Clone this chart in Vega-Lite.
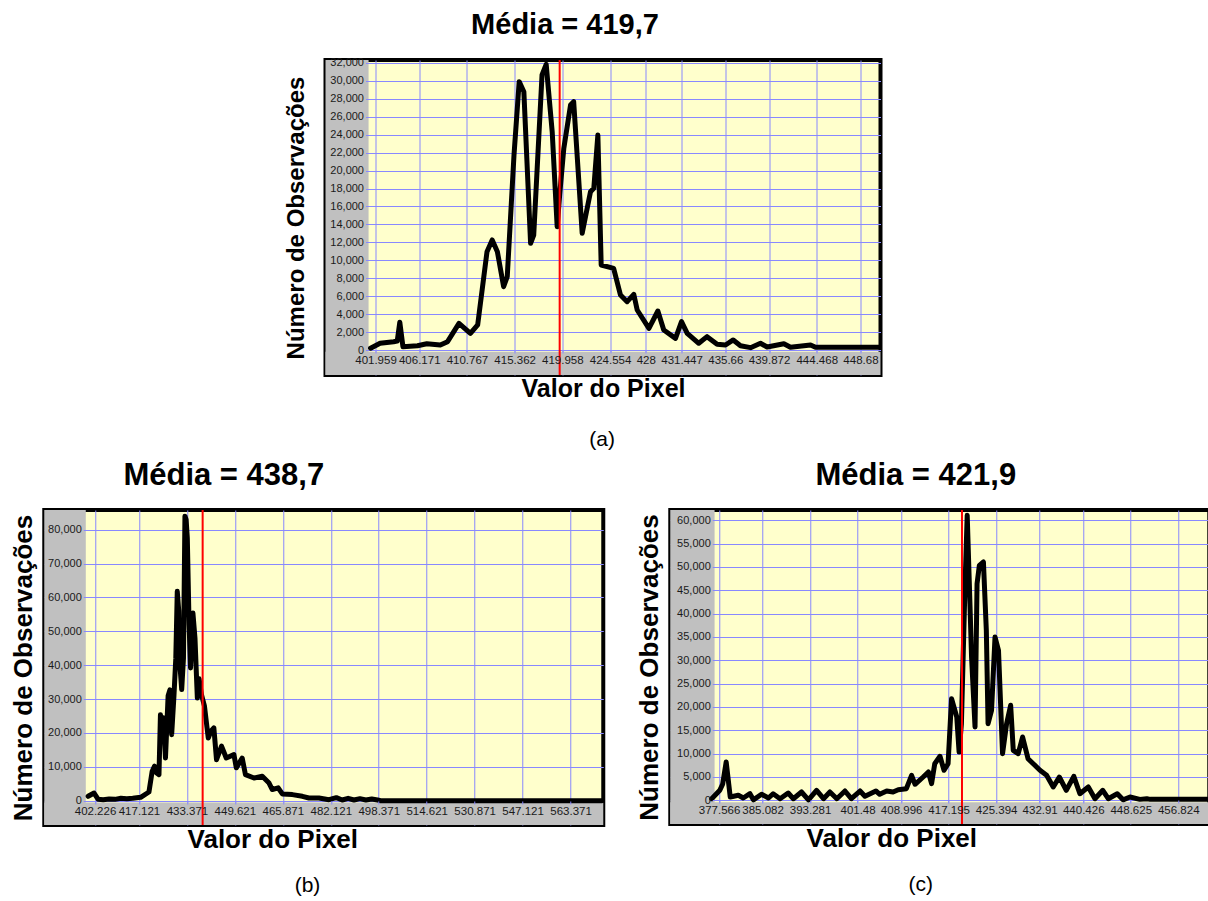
{
  "$schema": "https://vega.github.io/schema/vega-lite/v6.json",
  "padding": {"left": 8, "top": 8, "right": 0, "bottom": 4},
  "background": "#FFFFFF",
  "datasets": {
    "a": [
      {"valor": 401.48, "n": 200}, {"valor": 402.4, "n": 750}, {"valor": 403.7, "n": 930}, {"valor": 404.05, "n": 1000},
      {"valor": 404.3, "n": 3100}, {"valor": 404.6, "n": 370}, {"valor": 406.0, "n": 480}, {"valor": 406.9, "n": 700},
      {"valor": 408.2, "n": 560}, {"valor": 408.9, "n": 930}, {"valor": 410.0, "n": 2970}, {"valor": 411.1, "n": 1850},
      {"valor": 411.8, "n": 2790}, {"valor": 412.7, "n": 10960}, {"valor": 413.2, "n": 12270}, {"valor": 413.7, "n": 10960},
      {"valor": 414.3, "n": 7060}, {"valor": 414.65, "n": 8170}, {"valor": 415.3, "n": 21740}, {"valor": 415.8, "n": 29920},
      {"valor": 416.25, "n": 28800}, {"valor": 416.9, "n": 11900}, {"valor": 417.2, "n": 12820}, {"valor": 418.0, "n": 30660},
      {"valor": 418.4, "n": 31850}, {"valor": 418.98, "n": 24340}, {"valor": 419.46, "n": 13750}, {"valor": 419.7, "n": 17280},
      {"valor": 420.1, "n": 22490}, {"valor": 420.75, "n": 27320}, {"valor": 421.05, "n": 27690}, {"valor": 421.87, "n": 13010},
      {"valor": 422.67, "n": 17650}, {"valor": 422.99, "n": 18030}, {"valor": 423.38, "n": 23970}, {"valor": 423.7, "n": 9480},
      {"valor": 424.9, "n": 9110}, {"valor": 425.56, "n": 6130}, {"valor": 426.2, "n": 5390}, {"valor": 426.84, "n": 6210},
      {"valor": 427.17, "n": 4460}, {"valor": 428.3, "n": 2420}, {"valor": 429.16, "n": 4350}, {"valor": 429.73, "n": 2230},
      {"valor": 430.86, "n": 1300}, {"valor": 431.44, "n": 3160}, {"valor": 431.99, "n": 1860}, {"valor": 433.1, "n": 750},
      {"valor": 433.9, "n": 1490}, {"valor": 434.87, "n": 640}, {"valor": 435.68, "n": 560}, {"valor": 436.42, "n": 1120},
      {"valor": 437.12, "n": 480}, {"valor": 438.09, "n": 260}, {"valor": 439.05, "n": 750}, {"valor": 439.69, "n": 330},
      {"valor": 441.3, "n": 700}, {"valor": 441.94, "n": 300}, {"valor": 443.87, "n": 560}, {"valor": 444.35, "n": 300},
      {"valor": 450.5, "n": 300}
    ],
    "b": [
      {"valor": 399.9, "n": 1300}, {"valor": 401.9, "n": 2270}, {"valor": 403.3, "n": 400}, {"valor": 405.0, "n": 300},
      {"valor": 407.0, "n": 500}, {"valor": 409.0, "n": 400}, {"valor": 411.0, "n": 700}, {"valor": 413.0, "n": 600},
      {"valor": 415.0, "n": 700}, {"valor": 417.7, "n": 1000}, {"valor": 420.5, "n": 2570}, {"valor": 421.6, "n": 8700},
      {"valor": 422.4, "n": 10200}, {"valor": 423.1, "n": 8200}, {"valor": 423.9, "n": 7700}, {"valor": 424.4, "n": 25400},
      {"valor": 424.9, "n": 20000}, {"valor": 425.4, "n": 24500}, {"valor": 426.1, "n": 12600}, {"valor": 427.0, "n": 31000},
      {"valor": 427.6, "n": 32700}, {"valor": 428.2, "n": 19500}, {"valor": 429.0, "n": 31300}, {"valor": 429.6, "n": 42000},
      {"valor": 430.1, "n": 61800}, {"valor": 430.6, "n": 56000}, {"valor": 430.9, "n": 41200}, {"valor": 431.6, "n": 32800},
      {"valor": 432.2, "n": 42100}, {"valor": 432.7, "n": 84000}, {"valor": 433.1, "n": 83000}, {"valor": 433.5, "n": 77600},
      {"valor": 434.1, "n": 52000}, {"valor": 434.6, "n": 39200}, {"valor": 435.4, "n": 55400}, {"valor": 436.1, "n": 48000},
      {"valor": 436.9, "n": 30300}, {"valor": 437.5, "n": 36000}, {"valor": 438.3, "n": 31300}, {"valor": 439.3, "n": 28000},
      {"valor": 440.6, "n": 18500}, {"valor": 441.5, "n": 20500}, {"valor": 442.5, "n": 21500}, {"valor": 443.4, "n": 12100},
      {"valor": 445.1, "n": 16100}, {"valor": 446.7, "n": 12600}, {"valor": 449.3, "n": 13600}, {"valor": 450.1, "n": 9700},
      {"valor": 452.1, "n": 12600}, {"valor": 453.2, "n": 7700}, {"valor": 456.1, "n": 6700}, {"valor": 458.9, "n": 7200},
      {"valor": 461.2, "n": 5200}, {"valor": 462.3, "n": 3300}, {"valor": 464.3, "n": 3800}, {"valor": 465.7, "n": 2000},
      {"valor": 469.1, "n": 1800}, {"valor": 472.5, "n": 1300}, {"valor": 474.7, "n": 800}, {"valor": 478.1, "n": 800},
      {"valor": 481.5, "n": 300}, {"valor": 484.0, "n": 900}, {"valor": 486.0, "n": 200}, {"valor": 488.0, "n": 700},
      {"valor": 490.0, "n": 200}, {"valor": 492.0, "n": 600}, {"valor": 494.0, "n": 200}, {"valor": 496.0, "n": 500},
      {"valor": 498.0, "n": 200}, {"valor": 499.0, "n": 0}, {"valor": 574.0, "n": 0}
    ],
    "c": [
      {"valor": 376.3, "n": 340}, {"valor": 377.7, "n": 2140}, {"valor": 378.2, "n": 3500}, {"valor": 378.8, "n": 8210},
      {"valor": 379.5, "n": 700}, {"valor": 380.9, "n": 1070}, {"valor": 381.75, "n": 490}, {"valor": 382.9, "n": 1410},
      {"valor": 383.5, "n": 100}, {"valor": 384.9, "n": 1290}, {"valor": 386.1, "n": 490}, {"valor": 386.9, "n": 1410},
      {"valor": 388.1, "n": 340}, {"valor": 389.5, "n": 1560}, {"valor": 390.4, "n": 340}, {"valor": 391.8, "n": 1780},
      {"valor": 393.0, "n": 100}, {"valor": 394.4, "n": 2140}, {"valor": 395.6, "n": 340}, {"valor": 396.7, "n": 1780},
      {"valor": 397.9, "n": 340}, {"valor": 399.3, "n": 1990}, {"valor": 400.4, "n": 340}, {"valor": 401.9, "n": 1990},
      {"valor": 402.75, "n": 860}, {"valor": 404.65, "n": 1990}, {"valor": 405.3, "n": 1290}, {"valor": 406.5, "n": 1990},
      {"valor": 407.6, "n": 1780}, {"valor": 408.5, "n": 2270}, {"valor": 409.9, "n": 2490}, {"valor": 410.8, "n": 5360},
      {"valor": 411.4, "n": 3430}, {"valor": 412.8, "n": 4990}, {"valor": 413.7, "n": 6060}, {"valor": 414.25, "n": 3560},
      {"valor": 414.8, "n": 7840}, {"valor": 415.7, "n": 9430}, {"valor": 416.4, "n": 6430}, {"valor": 417.1, "n": 7840},
      {"valor": 417.7, "n": 21770}, {"valor": 418.6, "n": 17850}, {"valor": 419.0, "n": 10350}, {"valor": 419.4, "n": 16410},
      {"valor": 420.0, "n": 45000}, {"valor": 420.4, "n": 61070}, {"valor": 420.75, "n": 47140}, {"valor": 421.15, "n": 30700},
      {"valor": 421.75, "n": 15710}, {"valor": 422.1, "n": 46410}, {"valor": 422.5, "n": 50350}, {"valor": 423.2, "n": 51060},
      {"valor": 423.7, "n": 36430}, {"valor": 424.0, "n": 16410}, {"valor": 424.6, "n": 19280}, {"valor": 425.2, "n": 34990},
      {"valor": 425.8, "n": 32140}, {"valor": 426.5, "n": 9990}, {"valor": 427.2, "n": 16410}, {"valor": 427.9, "n": 20360},
      {"valor": 428.35, "n": 10710}, {"valor": 429.2, "n": 9990}, {"valor": 429.96, "n": 13560}, {"valor": 430.9, "n": 8910},
      {"valor": 431.8, "n": 7840}, {"valor": 432.96, "n": 6430}, {"valor": 434.1, "n": 5360}, {"valor": 435.25, "n": 2850},
      {"valor": 436.3, "n": 4990}, {"valor": 437.5, "n": 2140}, {"valor": 438.8, "n": 5140}, {"valor": 439.85, "n": 1410},
      {"valor": 441.3, "n": 2850}, {"valor": 442.45, "n": 340}, {"valor": 443.8, "n": 2140}, {"valor": 444.75, "n": 340},
      {"valor": 446.3, "n": 1410}, {"valor": 447.3, "n": 100}, {"valor": 448.5, "n": 700}, {"valor": 450.2, "n": 200},
      {"valor": 451.4, "n": 340}, {"valor": 452.0, "n": 200}, {"valor": 462.0, "n": 200}
    ]
  },
  "config": {
    "font": "Liberation Sans",
    "view": {"fill": "#FFFFCC", "stroke": "#000000", "strokeWidth": 4},
    "title": {"font": "Liberation Sans", "fontSize": 24, "fontWeight": "bold", "color": "#000000"},
    "axis": {
      "labelFont": "Liberation Sans", "labelFontSize": 11, "labelColor": "#1A1A1A",
      "titleFont": "Liberation Sans", "titleFontSize": 24, "titleFontWeight": "bold", "titleColor": "#000000",
      "gridColor": "#8888FF", "gridOpacity": 1, "gridWidth": 1,
      "tickColor": "#8888FF", "domainColor": "#8888FF",
      "labelOverlap": false, "labelFlush": false
    }
  },
  "center": true,
  "spacing": 8,
  "vconcat": [
    {
      "title": {"text": "(a)", "orient": "bottom", "anchor": "middle", "fontSize": 21, "fontWeight": "normal", "offset": 25, "frame": "bounds", "dx": -5},
      "vconcat": [
        {
          "width": 555,
          "height": 315,
          "title": {"text": "Média = 419,7", "fontSize": 29, "frame": "group", "offset": 17, "dx": -38},
          "resolve": {"axis": {"x": "independent", "y": "independent"}},
          "layer": [
            {
              "data": {"values": [{}]},
              "mark": {"type": "rect", "color": "#C0C0C0"},
              "encoding": {
                "x": {"datum": 397.14, "type": "quantitative", "scale": {"domain": [397.14, 450.61], "nice": false, "zero": false},
                  "axis": {"orient": "bottom", "values": [401.959, 406.171, 410.767, 415.362, 419.958, 424.554, 428, 431.447, 435.66, 439.872, 444.468, 448.68], "grid": true, "labels": false, "ticks": false, "domain": false, "title": null, "zindex": 0}},
                "x2": {"datum": 401.29},
                "y": {"datum": -2787, "type": "quantitative", "scale": {"domain": [-2787, 32334], "nice": false, "zero": false},
                  "axis": {"orient": "left", "values": [0, 2000, 4000, 6000, 8000, 10000, 12000, 14000, 16000, 18000, 20000, 22000, 24000, 26000, 28000, 30000, 32000], "grid": true, "labels": false, "ticks": false, "domain": false, "title": null, "zindex": 0}},
                "y2": {"datum": 32334}
              }
            },
            {
              "data": {"values": [{}]},
              "mark": {"type": "rect", "color": "#C0C0C0"},
              "encoding": {
                "x": {"datum": 397.14, "type": "quantitative", "scale": {"domain": [397.14, 450.61], "nice": false, "zero": false}, "axis": null},
                "x2": {"datum": 450.61},
                "y": {"datum": -2787, "type": "quantitative", "scale": {"domain": [-2787, 32334], "nice": false, "zero": false},
                  "axis": {"orient": "right", "offset": 49, "grid": false, "labels": false, "ticks": false, "domain": true, "domainOpacity": 0, "title": null}},
                "y2": {"datum": -200}
              }
            },
            {
              "data": {"name": "a"},
              "mark": {"type": "line", "color": "#000000", "strokeWidth": 5, "strokeJoin": "round", "strokeCap": "round"},
              "encoding": {
                "x": {"field": "valor", "type": "quantitative", "scale": {"domain": [397.14, 450.61], "nice": false, "zero": false},
                  "axis": {"orient": "bottom", "offset": -25, "values": [401.959, 406.171, 410.767, 415.362, 419.958, 424.554, 428, 431.447, 435.66, 439.872, 444.468, 448.68], "labelExpr": "'' + datum.value", "labelFontSize": 11.5, "grid": false, "domain": false, "tickSize": 3, "labelPadding": 1, "title": "Valor do Pixel", "titleFontSize": 25, "titlePadding": 11, "zindex": 1}},
                "y": {"field": "n", "type": "quantitative", "scale": {"domain": [-2787, 32334], "nice": false, "zero": false},
                  "axis": {"orient": "left", "offset": -43, "values": [0, 2000, 4000, 6000, 8000, 10000, 12000, 14000, 16000, 18000, 20000, 22000, 24000, 26000, 28000, 30000, 32000], "format": ",d", "grid": false, "domain": false, "tickSize": 3, "labelPadding": 2, "title": "Número de Observações", "titlePadding": 21, "zindex": 1}}
              }
            },
            {
              "data": {"values": [{}]},
              "mark": {"type": "rule", "color": "#FF0000", "strokeWidth": 2},
              "encoding": {"x": {"datum": 419.7, "type": "quantitative", "scale": {"domain": [397.14, 450.61], "nice": false, "zero": false}, "axis": null}}
            }
          ]
        }
      ]
    },
    {
      "spacing": 27,
      "hconcat": [
        {
          "title": {"text": "(b)", "orient": "bottom", "anchor": "middle", "fontSize": 21, "fontWeight": "normal", "offset": 20, "frame": "bounds"},
          "vconcat": [
            {
              "width": 559,
              "height": 315,
              "title": {"text": "Média = 438,7", "fontSize": 31, "frame": "group", "offset": 17, "dx": -100},
              "resolve": {"axis": {"x": "independent", "y": "independent"}},
              "layer": [
                {
                  "data": {"values": [{}]},
                  "mark": {"type": "rect", "color": "#C0C0C0"},
                  "encoding": {
                    "x": {"datum": 385.03, "type": "quantitative", "scale": {"domain": [385.03, 574.46], "nice": false, "zero": false},
                      "axis": {"orient": "bottom", "values": [402.226, 417.121, 433.371, 449.621, 465.871, 482.121, 498.371, 514.621, 530.871, 547.121, 563.371], "grid": true, "labels": false, "ticks": false, "domain": false, "title": null, "zindex": 0}},
                    "x2": {"datum": 399.1},
                    "y": {"datum": -7173, "type": "quantitative", "scale": {"domain": [-7173, 85815], "nice": false, "zero": false},
                      "axis": {"orient": "left", "values": [0, 10000, 20000, 30000, 40000, 50000, 60000, 70000, 80000], "grid": true, "labels": false, "ticks": false, "domain": false, "title": null, "zindex": 0}},
                    "y2": {"datum": 85815}
                  }
                },
                {
                  "data": {"values": [{}]},
                  "mark": {"type": "rect", "color": "#C0C0C0"},
                  "encoding": {
                    "x": {"datum": 385.03, "type": "quantitative", "scale": {"domain": [385.03, 574.46], "nice": false, "zero": false}, "axis": null},
                    "x2": {"datum": 574.46},
                    "y": {"datum": -7173, "type": "quantitative", "scale": {"domain": [-7173, 85815], "nice": false, "zero": false}, "axis": null},
                    "y2": {"datum": -500}
                  }
                },
                {
                  "data": {"name": "b"},
                  "mark": {"type": "line", "color": "#000000", "strokeWidth": 5, "strokeJoin": "round", "strokeCap": "round"},
                  "encoding": {
                    "x": {"field": "valor", "type": "quantitative", "scale": {"domain": [385.03, 574.46], "nice": false, "zero": false},
                      "axis": {"orient": "bottom", "offset": -24, "values": [402.226, 417.121, 433.371, 449.621, 465.871, 482.121, 498.371, 514.621, 530.871, 547.121, 563.371], "labelExpr": "'' + datum.value", "labelFontSize": 11.5, "grid": false, "domain": false, "tickSize": 3, "labelPadding": 1, "title": "Valor do Pixel", "titleFontSize": 26, "titlePadding": 10, "titleX": 228, "zindex": 1}},
                    "y": {"field": "n", "type": "quantitative", "scale": {"domain": [-7173, 85815], "nice": false, "zero": false},
                      "axis": {"orient": "left", "offset": -42, "values": [0, 10000, 20000, 30000, 40000, 50000, 60000, 70000, 80000], "format": ",d", "grid": false, "domain": false, "tickSize": 3, "labelPadding": 2, "title": "Número de Observações", "titleFontSize": 26, "titlePadding": 11, "zindex": 1}}
                  }
                },
                {
                  "data": {"values": [{}]},
                  "mark": {"type": "rule", "color": "#FF0000", "strokeWidth": 2},
                  "encoding": {"x": {"datum": 438.7, "type": "quantitative", "scale": {"domain": [385.03, 574.46], "nice": false, "zero": false}, "axis": null}}
                }
              ]
            }
          ]
        },
        {
          "title": {"text": "(c)", "orient": "bottom", "anchor": "middle", "fontSize": 21, "fontWeight": "normal", "offset": 20, "frame": "bounds", "dx": -3},
          "vconcat": [
            {
              "width": 539,
              "height": 314,
              "title": {"text": "Média = 421,9", "fontSize": 31, "frame": "group", "offset": 17, "dx": -24},
              "resolve": {"axis": {"x": "independent", "y": "independent"}},
              "layer": [
                {
                  "data": {"values": [{}]},
                  "mark": {"type": "rect", "color": "#C0C0C0"},
                  "encoding": {
                    "x": {"datum": 369.15, "type": "quantitative", "scale": {"domain": [369.15, 462.18], "nice": false, "zero": false},
                      "axis": {"orient": "bottom", "values": [377.566, 385.082, 393.281, 401.48, 408.996, 417.195, 425.394, 432.91, 440.426, 448.625, 456.824], "grid": true, "labels": false, "ticks": false, "domain": false, "title": null, "zindex": 0}},
                    "x2": {"datum": 376.8},
                    "y": {"datum": -5079, "type": "quantitative", "scale": {"domain": [-5079, 62207], "nice": false, "zero": false},
                      "axis": {"orient": "left", "values": [0, 5000, 10000, 15000, 20000, 25000, 30000, 35000, 40000, 45000, 50000, 55000, 60000], "grid": true, "labels": false, "ticks": false, "domain": false, "title": null, "zindex": 0}},
                    "y2": {"datum": 62207}
                  }
                },
                {
                  "data": {"values": [{}]},
                  "mark": {"type": "rect", "color": "#C0C0C0"},
                  "encoding": {
                    "x": {"datum": 369.15, "type": "quantitative", "scale": {"domain": [369.15, 462.18], "nice": false, "zero": false}, "axis": null},
                    "x2": {"datum": 462.18},
                    "y": {"datum": -5079, "type": "quantitative", "scale": {"domain": [-5079, 62207], "nice": false, "zero": false}, "axis": null},
                    "y2": {"datum": -400}
                  }
                },
                {
                  "data": {"name": "c"},
                  "mark": {"type": "line", "color": "#000000", "strokeWidth": 5, "strokeJoin": "round", "strokeCap": "round"},
                  "encoding": {
                    "x": {"field": "valor", "type": "quantitative", "scale": {"domain": [369.15, 462.18], "nice": false, "zero": false},
                      "axis": {"orient": "bottom", "offset": -24, "values": [377.566, 385.082, 393.281, 401.48, 408.996, 417.195, 425.394, 432.91, 440.426, 448.625, 456.824], "labelExpr": "'' + datum.value", "labelFontSize": 11.5, "grid": false, "domain": false, "tickSize": 3, "labelPadding": 1, "title": "Valor do Pixel", "titleFontSize": 26, "titlePadding": 10, "titleX": 221, "zindex": 1}},
                    "y": {"field": "n", "type": "quantitative", "scale": {"domain": [-5079, 62207], "nice": false, "zero": false},
                      "axis": {"orient": "left", "offset": -45, "values": [0, 5000, 10000, 15000, 20000, 25000, 30000, 35000, 40000, 45000, 50000, 55000, 60000], "format": ",d", "grid": false, "domain": false, "tickSize": 3, "labelPadding": 2, "title": "Número de Observações", "titleFontSize": 26, "titlePadding": 14, "zindex": 1}}
                  }
                },
                {
                  "data": {"values": [{}]},
                  "mark": {"type": "rule", "color": "#FF0000", "strokeWidth": 2},
                  "encoding": {"x": {"datum": 419.5, "type": "quantitative", "scale": {"domain": [369.15, 462.18], "nice": false, "zero": false}, "axis": null}}
                }
              ]
            }
          ]
        }
      ]
    }
  ]
}
